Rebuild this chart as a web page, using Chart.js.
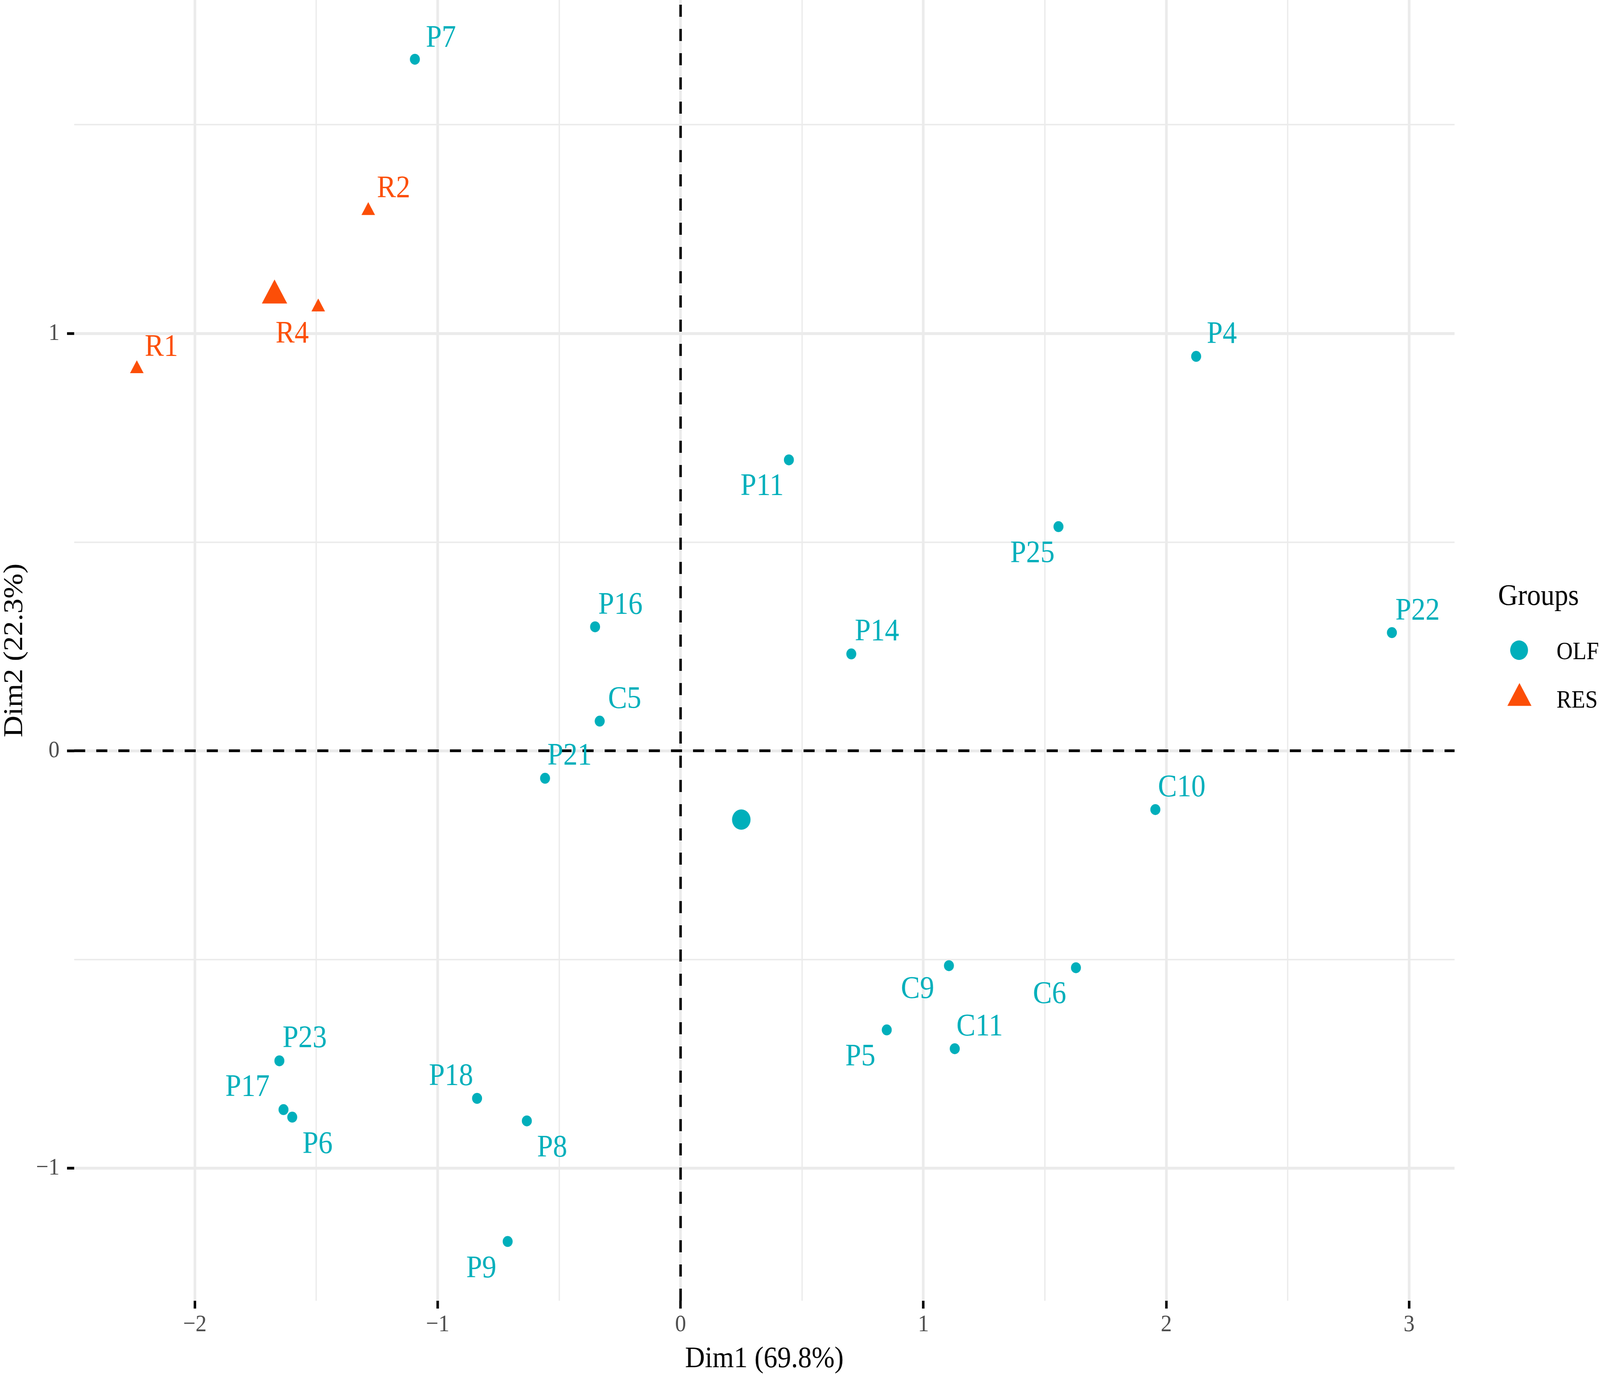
<!DOCTYPE html>
<html lang="en">
<head>
<meta charset="utf-8">
<title>PCA - Individuals</title>
<script src="https://cdn.jsdelivr.net/npm/chart.js@4.4.0/dist/chart.umd.min.js"></script>
<style>
    html, body {
        margin: 0;
        padding: 0;
        background: #ffffff;
        overflow: hidden;
    }
</style>
</head>
<body>
<canvas id="pca" width="4488" height="3519"></canvas>
<script>
// Individuals of group OLF (Dim1, Dim2)
const olfNames = ['P7', 'P4', 'P11', 'P25', 'P16', 'P14', 'P22', 'C5', 'P21', 'C10',
                  'C9', 'C6', 'P5', 'C11', 'P23', 'P17', 'P6', 'P18', 'P8', 'P9'];
const olfDim1 = [-1.094, 2.123, 0.446, 1.556, -0.352, 0.703, 2.929, -0.333, -0.558, 1.955,
                 1.105, 1.628, 0.849, 1.129, -1.652, -1.635, -1.599, -0.838, -0.633, -0.712];
const olfDim2 = [1.657, 0.945, 0.697, 0.537, 0.297, 0.232, 0.283, 0.071, -0.066, -0.141,
                 -0.515, -0.520, -0.669, -0.714, -0.743, -0.860, -0.878, -0.833, -0.887, -1.176];

// Individuals of group RES
const resNames = ['R1', 'R2', 'R4'];
const resDim1 = [-2.239, -1.286, -1.492];
const resDim2 = [0.915, 1.294, 1.063];

// group mean points
const olfCenter = [0.250, -0.165];
const resCenter = [-1.672, 1.091];

const groupNames = ['OLF', 'RES'];
const xBreaks = [-2, -1.5, -1, -0.5, 0, 0.5, 1, 1.5, 2, 2.5, 3];
const yBreaks = [-1, -0.5, 0, 0.5, 1, 1.5];
const xLabelled = [-2, -1, 0, 1, 2, 3];
const yLabelled = [-1, 0, 1];

// label placement (pixels from the point, like ggrepel did it)
const olfNudge = [[73, -58], [72, -61], [-75, 64], [-73, 65], [71, -60], [72, -61], [72, -60], [70, -60], [69, -61], [74, -60],
                  [-88, 56], [-74, 64], [-74, 65], [70, -60], [71, -61], [-101, -61], [71, 65], [-73, -61], [71, 65], [-74, 65]];
const resNudge = [[69, -60], [71, -61], [-73, 64]];

const TEAL = '#00AFBB';
const ORANGE = '#FC4E07';
const FONT = '"Liberation Serif", "Times New Roman", serif';

const toPoints = (xs, ys) => xs.map((x, i) => ({ x: x, y: ys[i] }));
const fmt = (v) => (v < 0 ? '\u2212' + Math.abs(v) : String(v));
const isMajor = (v) => Number.isInteger(v);

// dashed reference lines at 0
const zeroLines = {
    id: 'zeroLines',
    beforeDatasetsDraw(chart) {
        const { ctx, chartArea, scales } = chart;
        const x0 = scales.x.getPixelForValue(0);
        const y0 = scales.y.getPixelForValue(0);
        ctx.save();
        ctx.strokeStyle = '#000000';
        ctx.lineWidth = 7;
        ctx.setLineDash([31, 31]);
        ctx.beginPath();
        ctx.moveTo(chartArea.left, y0);
        ctx.lineTo(chartArea.right, y0);
        ctx.stroke();
        ctx.beginPath();
        ctx.moveTo(x0, chartArea.bottom);
        ctx.lineTo(x0, chartArea.top);
        ctx.stroke();
        ctx.restore();
    }
};

// point names + titles + legend
const decorations = {
    id: 'decorations',
    afterDatasetsDraw(chart) {
        const ctx = chart.ctx;
        ctx.save();
        ctx.font = '80px ' + FONT;
        ctx.textAlign = 'center';
        ctx.textBaseline = 'alphabetic';
        const drawNames = (dsIndex, names, nudge, color) => {
            const meta = chart.getDatasetMeta(dsIndex);
            ctx.fillStyle = color;
            meta.data.forEach((pt, i) => {
                ctx.fillText(names[i], pt.x + nudge[i][0], pt.y + nudge[i][1] + 26.5);
            });
        };
        drawNames(0, olfNames, olfNudge, TEAL);
        drawNames(1, resNames, resNudge, ORANGE);
        ctx.restore();
    },
    afterDraw(chart) {
        const ctx = chart.ctx;
        const area = chart.chartArea;
        ctx.save();
        ctx.fillStyle = '#000000';
        ctx.textBaseline = 'alphabetic';

        // axis titles
        ctx.font = '77px ' + FONT;
        ctx.textAlign = 'center';
        ctx.fillText('Dim1 (69.8%)', (area.left + area.right) / 2, 3499);
        ctx.save();
        ctx.translate(62, (area.top + area.bottom) / 2);
        ctx.rotate(-Math.PI / 2);
        ctx.fillText('Dim2 (22.3%)', 0, 0);
        ctx.restore();

        // legend
        ctx.textAlign = 'left';
        ctx.fillText('Groups', 4202, 1548);
        ctx.font = '63px ' + FONT;
        ctx.fillText(groupNames[0], 4366, 1687);
        ctx.fillText(groupNames[1], 4366, 1811);

        ctx.fillStyle = TEAL;
        ctx.beginPath();
        ctx.arc(4261, 1664, 25, 0, Math.PI * 2);
        ctx.fill();

        const r = 39, cx = 4262, cy = 1787;
        ctx.fillStyle = ORANGE;
        ctx.beginPath();
        ctx.moveTo(cx, cy - r);
        ctx.lineTo(cx + r * Math.sqrt(3) / 2, cy + r / 2);
        ctx.lineTo(cx - r * Math.sqrt(3) / 2, cy + r / 2);
        ctx.closePath();
        ctx.fill();
        ctx.restore();
    }
};

// draw at the figure's own 4488 x 3519 size and let the page stretch it to the window
const canvas = document.getElementById('pca');
canvas.style.display = 'block';
canvas.style.width = '100vw';
canvas.style.height = '100vh';

new Chart(canvas, {
    type: 'scatter',
    plugins: [zeroLines, decorations],
    data: {
        datasets: [
            {
                label: groupNames[0],
                data: toPoints(olfDim1, olfDim2),
                pointStyle: 'circle',
                radius: 14,
                backgroundColor: TEAL,
                borderWidth: 0,
            },
            {
                label: groupNames[1],
                data: toPoints(resDim1, resDim2),
                pointStyle: 'triangle',
                radius: 22,
                backgroundColor: ORANGE,
                borderWidth: 0,
            },
            {
                label: groupNames[0] + ' mean',
                data: [{ x: olfCenter[0], y: olfCenter[1] }],
                pointStyle: 'circle',
                radius: 26,
                backgroundColor: TEAL,
                borderWidth: 0,
            },
            {
                label: groupNames[1] + ' mean',
                data: [{ x: resCenter[0], y: resCenter[1] }],
                pointStyle: 'triangle',
                radius: 41,
                backgroundColor: ORANGE,
                borderWidth: 0,
            },
        ],
    },
    options: {
        responsive: false,
        devicePixelRatio: 1,
        animation: false,
        layout: { autoPadding: false, padding: { left: 0, right: 408, top: 0, bottom: 0 } },
        plugins: {
            legend: { display: false },
            tooltip: { enabled: false },
        },
        scales: {
            x: {
                type: 'linear',
                min: -2.497,
                max: 3.187,
                afterBuildTicks: (axis) => { axis.ticks = xBreaks.map(v => ({ value: v })); },
                afterFit: (axis) => { axis.height = 190; axis.paddingLeft = 0; axis.paddingRight = 0; },
                border: { display: false },
                grid: {
                    color: '#EBEBEB',
                    lineWidth: (c) => (isMajor(c.tick.value) ? 7.4 : 3.7),
                    tickColor: (c) => (isMajor(c.tick.value) ? '#000000' : 'rgba(0,0,0,0)'),
                    tickWidth: 7,
                    tickLength: 20,
                },
                ticks: {
                    autoSkip: false,
                    maxRotation: 0,
                    padding: 5,
                    color: '#4D4D4D',
                    font: { family: FONT, size: 62 },
                    callback: (v) => (xLabelled.includes(v) ? fmt(v) : ''),
                },
            },
            y: {
                type: 'linear',
                min: -1.318,
                max: 1.799,
                afterBuildTicks: (axis) => { axis.ticks = yBreaks.map(v => ({ value: v })); },
                afterFit: (axis) => { axis.width = 208; axis.paddingTop = 0; axis.paddingBottom = 0; },
                border: { display: false },
                grid: {
                    color: '#EBEBEB',
                    lineWidth: (c) => (isMajor(c.tick.value) ? 7.4 : 3.7),
                    tickColor: (c) => (isMajor(c.tick.value) ? '#000000' : 'rgba(0,0,0,0)'),
                    tickWidth: 7,
                    tickLength: 20,
                },
                ticks: {
                    autoSkip: false,
                    padding: 21,
                    color: '#4D4D4D',
                    font: { family: FONT, size: 62 },
                    callback: (v) => (yLabelled.includes(v) ? fmt(v) : ''),
                },
            },
        },
    },
});
</script>
</body>
</html>
